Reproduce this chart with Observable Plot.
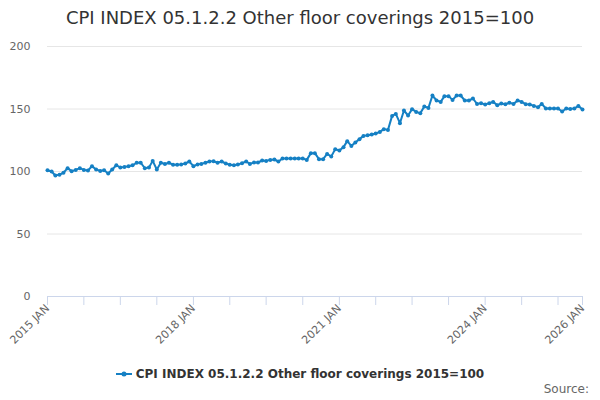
<!DOCTYPE html>
<html>
<head>
<meta charset="utf-8">
<script src="https://cdn.jsdelivr.net/npm/d3@7"></script>
<script src="https://cdn.jsdelivr.net/npm/@observablehq/plot@0.6"></script>
<style>
  body { margin: 0; background: #fff; font-family: "DejaVu Sans", sans-serif; }
  #wrap { position: relative; width: 600px; height: 400px; overflow: hidden; }
  #title { position: absolute; left: 0; top: 0; width: 600px; height: 36px; line-height: 36px; text-align: center; font-size: 18px; color: #333; }
  #chart { position: absolute; left: 0; top: 36px; }
  #legend { position: absolute; left: 0; top: 364px; width: 600px; height: 20px; display: flex; justify-content: center; align-items: center; font-size: 12px; font-weight: bold; color: #333; }
  #legend svg { margin-right: 4px; }
  #source { position: absolute; right: 11px; top: 382px; font-size: 12px; color: #666; }
</style>
</head>
<body>
<div id="wrap">
  <div id="title">CPI INDEX 05.1.2.2 Other floor coverings 2015=100</div>
  <div id="chart"></div>
  <div id="legend"></div>
  <div id="source">Source:</div>
</div>
<script>
const seriesName = "CPI INDEX 05.1.2.2 Other floor coverings 2015=100";
const startYear = 2015;
const startMonth = 0; // January
const values = [
  101.0, 100.0, 96.8, 97.5, 99.0, 102.7, 100.3, 101.3, 102.7, 101.3, 100.8, 104.3,
  101.6, 100.5, 101.0, 98.4, 101.6, 105.0, 103.2, 103.6, 104.3, 105.0, 107.0, 107.0,
  102.7, 103.2, 108.5, 101.6, 107.0, 106.0, 107.0, 105.4, 105.4, 105.7, 106.4, 108.0,
  104.3, 105.7, 106.1, 107.0, 108.0, 108.3, 107.0, 108.0, 106.4, 105.4, 105.0, 105.6,
  106.7, 108.0, 106.1, 107.2, 107.2, 108.8, 108.5, 109.3, 109.6, 108.0, 110.4, 110.4,
  110.4, 110.4, 110.4, 110.4, 109.3, 114.7, 114.7, 109.9, 109.9, 114.1, 112.0, 117.9,
  116.8, 119.5, 124.3, 120.5, 123.2, 125.9, 128.5, 129.0, 129.6, 130.4, 131.7, 133.9,
  133.3, 144.5, 146.1, 138.7, 148.8, 144.8, 149.9, 147.7, 146.7, 152.0, 150.9, 160.8,
  156.8, 155.7, 160.3, 160.3, 157.3, 160.8, 160.8, 156.8, 156.8, 158.4, 154.1, 154.7,
  153.6, 154.7, 155.7, 153.1, 154.4, 153.9, 155.0, 154.1, 156.8, 155.7, 153.9, 153.6,
  152.5, 151.5, 154.1, 150.4, 150.4, 150.4, 150.4, 148.0, 150.4, 150.1, 150.4, 152.5,
  149.6
];
const yTicks = [0, 50, 100, 150, 200];
const labelYears = [2015, 2018, 2021, 2024, 2026];
const tickStepMonths = 9;

const lineColor = "#1580c4";

const data = values.map((v, i) => ({ date: new Date(Date.UTC(startYear, startMonth + i, 1)), value: v }));
const xStart = new Date(Date.UTC(2015, 0, 1));
const xEnd = new Date(Date.UTC(2026, 0, 1));

const tickDates = [];
for (let m = 0; ; m += tickStepMonths) {
  const d = new Date(Date.UTC(2015, m, 1));
  if (d > xEnd) break;
  tickDates.push(d);
}
if (+tickDates[tickDates.length - 1] !== +xEnd) tickDates.push(xEnd);
const labelDates = labelYears.map(y => new Date(Date.UTC(y, 0, 1)));

const chart = Plot.plot({
  width: 600,
  height: 320,
  marginTop: 10,
  marginLeft: 47,
  marginRight: 18,
  marginBottom: 60,
  style: { fontFamily: "DejaVu Sans, sans-serif", fontSize: "11px", color: "#666", background: "transparent" },
  x: { type: "utc", domain: [xStart, xEnd] },
  y: { domain: [0, 200] },
  marks: [
    Plot.gridY(yTicks.filter(t => t > 0), { stroke: "#e6e6e6", strokeOpacity: 1 }),
    Plot.axisY({ ticks: yTicks, tickSize: 0, tickPadding: 17, fill: "#666", label: null }),
    Plot.ruleY([0], { stroke: "#ccd6eb" }),
    Plot.axisX({ ticks: tickDates, tickSize: 9, stroke: "#ccd6eb", strokeOpacity: 1, text: null, label: null }),
    Plot.axisX({ ticks: labelDates, tickSize: 0, tickPadding: 10, tickRotate: -45, fill: "#666",
      tickFormat: d => `${d.getUTCFullYear()} JAN`, label: null }),
    Plot.line(data, { x: "date", y: "value", stroke: lineColor, strokeWidth: 2 }),
    Plot.dot(data, { x: "date", y: "value", r: 2, fill: lineColor, stroke: "none" })
  ]
});
document.getElementById("chart").appendChild(chart);

const legend = document.getElementById("legend");
legend.innerHTML = `<svg width="16" height="10"><line x1="0" y1="5" x2="16" y2="5" stroke="${lineColor}" stroke-width="2"/><circle cx="8" cy="5" r="2.5" fill="${lineColor}"/></svg><span>${seriesName}</span>`;
</script>
</body>
</html>
